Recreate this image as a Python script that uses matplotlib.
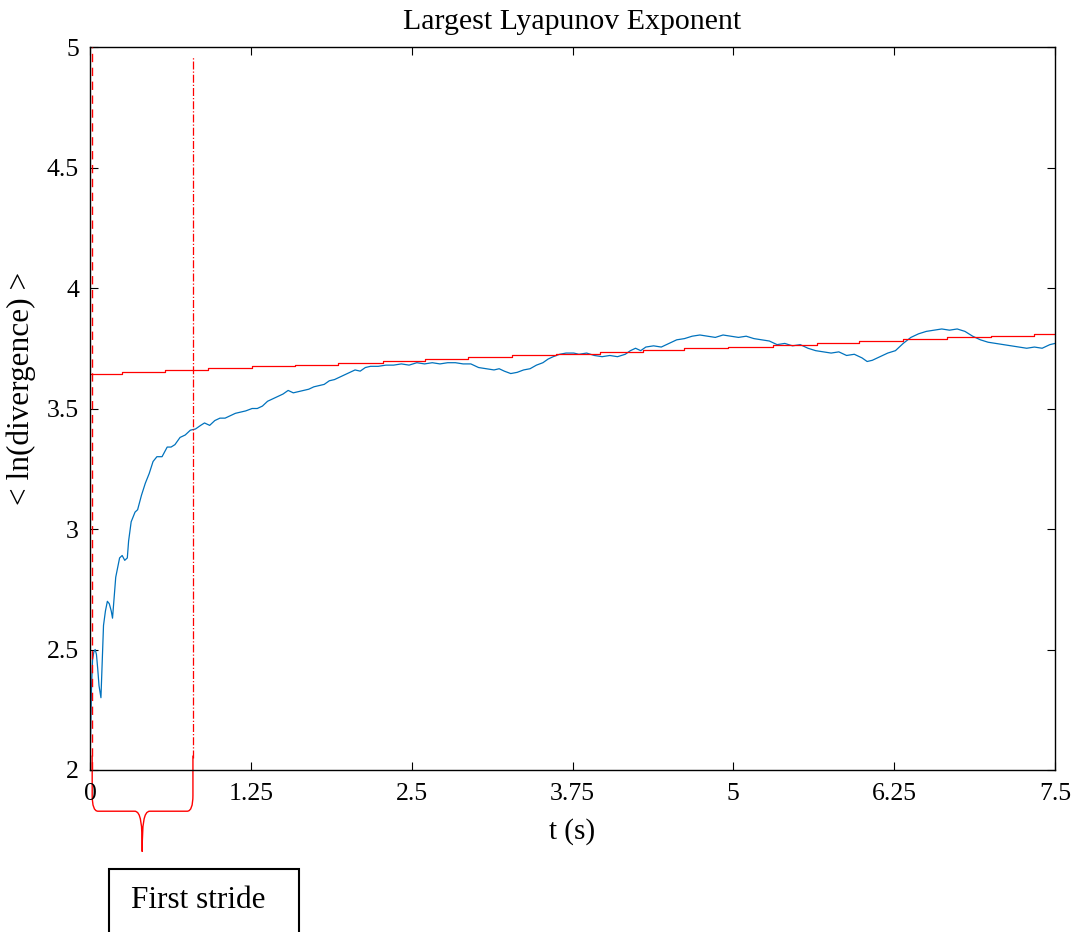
import matplotlib
matplotlib.use("Agg")
import matplotlib.pyplot as plt
import matplotlib.transforms as mtransforms
from matplotlib.path import Path
from matplotlib.patches import PathPatch, Rectangle

plt.rcParams["font.family"] = ["Liberation Serif", "DejaVu Serif"]

# averaged ln(divergence) curve
t_blue = [0.0, 0.005, 0.012, 0.02, 0.03, 0.04, 0.05, 0.06, 0.07, 0.085, 0.095, 0.105,
          0.12, 0.135, 0.15, 0.165, 0.175, 0.185, 0.20, 0.215, 0.23, 0.25, 0.27, 0.29,
          0.30, 0.32, 0.35, 0.37, 0.40, 0.43, 0.46, 0.49, 0.52, 0.56, 0.58, 0.60, 0.63,
          0.66, 0.70, 0.74, 0.78, 0.82, 0.86, 0.89, 0.93, 0.97, 1.01, 1.05, 1.09, 1.13,
          1.17, 1.21, 1.26, 1.30, 1.34, 1.38, 1.42, 1.46, 1.50, 1.54, 1.58, 1.62, 1.66,
          1.70, 1.74, 1.78, 1.82, 1.86, 1.90, 1.94, 1.98, 2.02, 2.06, 2.10, 2.14, 2.18,
          2.24, 2.30, 2.36, 2.42, 2.48, 2.54, 2.60, 2.66, 2.72, 2.78, 2.84, 2.90, 2.96,
          3.02, 3.08, 3.14, 3.18, 3.22, 3.27, 3.32, 3.37, 3.42, 3.47, 3.52, 3.56, 3.60,
          3.65, 3.70, 3.76, 3.80, 3.86, 3.92, 3.98, 4.04, 4.10, 4.16, 4.20, 4.24, 4.28,
          4.32, 4.38, 4.44, 4.50, 4.56, 4.62, 4.68, 4.74, 4.80, 4.86, 4.92, 4.98, 5.04,
          5.10, 5.16, 5.22, 5.28, 5.34, 5.40, 5.46, 5.52, 5.58, 5.64, 5.70, 5.76, 5.82,
          5.88, 5.94, 6.00, 6.04, 6.08, 6.14, 6.20, 6.26, 6.32, 6.38, 6.44, 6.50, 6.56,
          6.62, 6.68, 6.74, 6.80, 6.86, 6.92, 6.98, 7.04, 7.10, 7.16, 7.22, 7.28, 7.34,
          7.40, 7.46, 7.50]
ln_div = [2.02, 2.15, 2.35, 2.46, 2.49, 2.50, 2.48, 2.42, 2.35, 2.30, 2.45, 2.60,
          2.66, 2.70, 2.69, 2.66, 2.63, 2.70, 2.80, 2.84, 2.88, 2.89, 2.87, 2.88,
          2.95, 3.03, 3.07, 3.08, 3.14, 3.19, 3.23, 3.28, 3.30, 3.30, 3.32, 3.34, 3.34,
          3.35, 3.38, 3.39, 3.41, 3.415, 3.43, 3.44, 3.43, 3.45, 3.46, 3.46, 3.47, 3.48,
          3.485, 3.49, 3.50, 3.50, 3.51, 3.53, 3.54, 3.55, 3.56, 3.575, 3.565, 3.57, 3.575,
          3.58, 3.59, 3.595, 3.60, 3.615, 3.62, 3.63, 3.64, 3.65, 3.66, 3.655, 3.67, 3.675,
          3.675, 3.68, 3.68, 3.685, 3.68, 3.69, 3.685, 3.69, 3.685, 3.69, 3.69, 3.685, 3.685,
          3.67, 3.665, 3.66, 3.665, 3.655, 3.645, 3.65, 3.66, 3.665, 3.68, 3.69, 3.705, 3.715,
          3.725, 3.73, 3.73, 3.725, 3.73, 3.72, 3.715, 3.72, 3.715, 3.725, 3.74, 3.75, 3.74,
          3.755, 3.76, 3.755, 3.77, 3.785, 3.79, 3.80, 3.805, 3.80, 3.795, 3.805, 3.80, 3.795,
          3.80, 3.79, 3.785, 3.78, 3.765, 3.77, 3.76, 3.765, 3.75, 3.74, 3.735, 3.73, 3.735,
          3.72, 3.725, 3.71, 3.695, 3.70, 3.715, 3.73, 3.74, 3.77, 3.795, 3.81, 3.82, 3.825,
          3.83, 3.825, 3.83, 3.82, 3.80, 3.785, 3.775, 3.77, 3.765, 3.76, 3.755, 3.75, 3.755,
          3.75, 3.765, 3.77]

# stepped linear fit (red)
t_fit = [0.0, 0.25, 0.58, 0.92, 1.26, 1.59, 1.93, 2.28, 2.60, 2.94, 3.28, 3.62, 3.96,
         4.30, 4.62, 4.96, 5.31, 5.65, 5.98, 6.32, 6.66, 7.00, 7.34, 7.50]
fit_vals = [3.645, 3.652, 3.660, 3.667, 3.675, 3.682, 3.690, 3.697, 3.705, 3.712, 3.720,
            3.727, 3.735, 3.742, 3.750, 3.757, 3.765, 3.772, 3.780, 3.787, 3.795, 3.802,
            3.810, 3.810]

stride_start = 0.012
stride_end = 0.80

xticks = [0, 1.25, 2.5, 3.75, 5, 6.25, 7.5]
xticklabels = ["0", "1.25", "2.5", "3.75", "5", "6.25", "7.5"]
yticks = [2, 2.5, 3, 3.5, 4, 4.5, 5]
yticklabels = ["2", "2.5", "3", "3.5", "4", "4.5", "5"]

fig = plt.figure(figsize=(10.78, 9.32), dpi=100)
ax = fig.add_axes([90 / 1078, 1 - 770 / 932, 965 / 1078, 723 / 932])

ax.plot(t_blue, ln_div, color="#0072BD", lw=0.9)
ax.step(t_fit, fit_vals, where="post", color="red", lw=0.9)
ax.plot([stride_start, stride_start], [2.0, 5.0], color="red", lw=1.0,
        ls=(0, (6, 4)), zorder=5, clip_on=False)
ax.plot([stride_end, stride_end], [2.05, 4.96], color="red", lw=0.9, ls="-.")

ax.set_xlim(0, 7.5)
ax.set_ylim(2, 5)
ax.set_xticks(xticks)
ax.set_xticklabels(xticklabels)
ax.set_yticks(yticks)
ax.set_yticklabels(yticklabels)
ax.tick_params(direction="in", top=True, right=True, length=6, width=0.8,
               labelsize=18.5)
ax.tick_params(axis="x", pad=9)
ax.tick_params(axis="y", pad=8)
for s in ax.spines.values():
    s.set_linewidth(1.0)

ax.set_title("Largest Lyapunov Exponent", fontsize=21.5, pad=13)
ax.set_xlabel("t (s)", fontsize=21, labelpad=10)
ax.set_ylabel("< ln(divergence) >", fontsize=22.5)
ax.yaxis.set_label_coords(-0.056, 0.528)

# curly brace under the first stride
trans = mtransforms.blended_transform_factory(ax.transData, ax.transAxes)
mid = (stride_start + stride_end) / 2
verts = [(stride_start + 0.005, 0.02), (stride_start + 0.005, -0.035),
         (stride_start + 0.005, -0.057), (stride_start + 0.05, -0.057),
         (mid - 0.06, -0.057),
         (mid - 0.01, -0.057), (mid, -0.075), (mid, -0.113),
         (mid, -0.075), (mid + 0.01, -0.057), (mid + 0.06, -0.057),
         (stride_end - 0.045, -0.057),
         (stride_end, -0.057), (stride_end, -0.035), (stride_end, 0.02)]
codes = [Path.MOVETO, Path.LINETO,
         Path.CURVE3, Path.CURVE3,
         Path.LINETO,
         Path.CURVE4, Path.CURVE4, Path.CURVE4,
         Path.CURVE4, Path.CURVE4, Path.CURVE4,
         Path.LINETO,
         Path.CURVE3, Path.CURVE3, Path.LINETO]
brace = PathPatch(Path(verts, codes), transform=trans, fill=False, ec="red",
                  lw=1.0, clip_on=False)
ax.add_patch(brace)

fig.patches.append(Rectangle((109 / 1078, -3 / 932), 190 / 1078, 66 / 932,
                             transform=fig.transFigure, fill=False, ec="black",
                             lw=1.5))
fig.text(198 / 1078, 1 - 908 / 932, "First stride", fontsize=22.5, ha="center",
         va="baseline")

fig.savefig("out.png", dpi=100)
